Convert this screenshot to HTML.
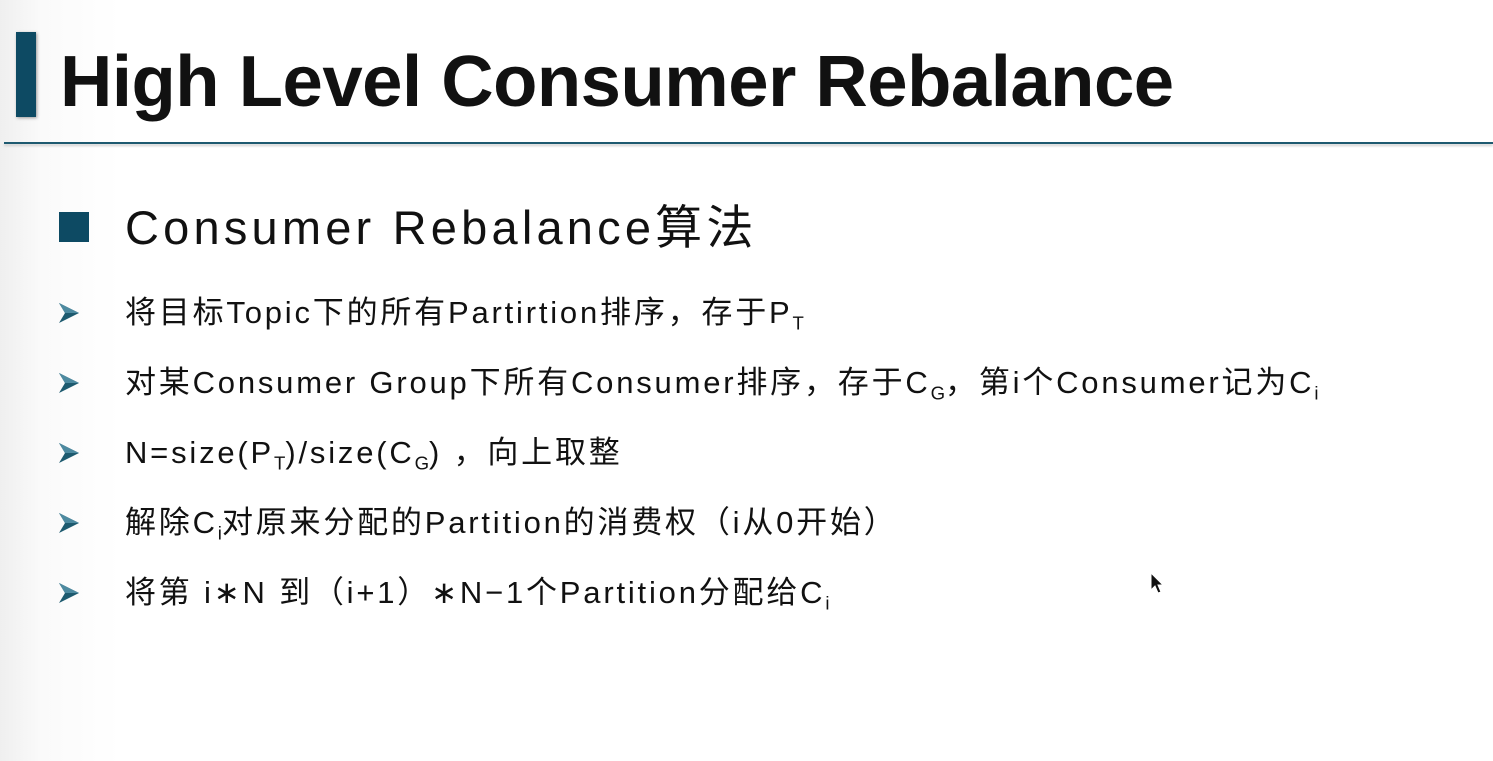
<!DOCTYPE html>
<html><head><meta charset="utf-8"><style>
html,body{margin:0;padding:0}
body{width:1493px;height:761px;overflow:hidden;position:relative;background:linear-gradient(90deg,#efefef 0px,#fafafa 40px,#fff 120px);font-family:"Liberation Sans","Noto Sans CJK SC",sans-serif;color:#111}
.bar{position:absolute;left:16px;top:32px;width:20px;height:85px;background:#0d4a63;box-shadow:1px 1px 3px #999}
.title{position:absolute;left:60px;top:32px;font-size:72.5px;font-weight:bold;line-height:100px;white-space:nowrap;letter-spacing:-0.5px}
.rule{position:absolute;left:4px;top:142px;width:1489px;height:2px;background:#1e5a70;box-shadow:0 2px 2px #ccc}
.sq{position:absolute;left:59px;top:212px;width:30px;height:30px;background:#0d4a63}
.sub{position:absolute;left:125px;top:198px;font-size:47px;line-height:60px;white-space:nowrap;letter-spacing:4.2px}
.li{position:absolute;left:125px;font-size:31px;line-height:40px;white-space:nowrap;letter-spacing:2.8px}
.ar{position:absolute;left:58px;width:22px;height:22px}
sub{font-size:60%;vertical-align:-0.35em;line-height:0;letter-spacing:0}
</style></head><body>
<div class="bar"></div>
<div class="title">High Level Consumer Rebalance</div>
<div class="rule"></div>
<div class="sq"></div>
<div class="sub">Consumer Rebalance算法</div>
<svg class="ar" style="top:302px" viewBox="0 0 22 22"><path d="M1 1 L21 11 L1 21 L7 11 Z" fill="#1d5a6f"/><path d="M1 1 L21 11 L7 11Z" fill="#4d8aa0"/></svg>
<svg class="ar" style="top:372px" viewBox="0 0 22 22"><path d="M1 1 L21 11 L1 21 L7 11 Z" fill="#1d5a6f"/><path d="M1 1 L21 11 L7 11Z" fill="#4d8aa0"/></svg>
<svg class="ar" style="top:442px" viewBox="0 0 22 22"><path d="M1 1 L21 11 L1 21 L7 11 Z" fill="#1d5a6f"/><path d="M1 1 L21 11 L7 11Z" fill="#4d8aa0"/></svg>
<svg class="ar" style="top:512px" viewBox="0 0 22 22"><path d="M1 1 L21 11 L1 21 L7 11 Z" fill="#1d5a6f"/><path d="M1 1 L21 11 L7 11Z" fill="#4d8aa0"/></svg>
<svg class="ar" style="top:582px" viewBox="0 0 22 22"><path d="M1 1 L21 11 L1 21 L7 11 Z" fill="#1d5a6f"/><path d="M1 1 L21 11 L7 11Z" fill="#4d8aa0"/></svg>
<div class="li" style="top:293px">将目标Topic下的所有Partirtion排序，存于P<sub>T</sub></div>
<div class="li" style="top:363px">对某Consumer Group下所有Consumer排序，存于C<sub>G</sub>，第i个Consumer记为C<sub>i</sub></div>
<div class="li" style="top:433px">N=size(P<sub>T</sub>)/size(C<sub>G</sub>) ，向上取整</div>
<div class="li" style="top:503px">解除C<sub>i</sub>对原来分配的Partition的消费权（i从0开始）</div>
<div class="li" style="top:573px">将第 i∗N 到（i+1）∗N−1个Partition分配给C<sub>i</sub></div>
<svg style="position:absolute;left:1150px;top:572px" width="16" height="24" viewBox="0 0 16 24"><path d="M1 1 L1 18 L5 14 L8 21 L11 20 L8 13 L13 13 Z" fill="#111" stroke="#fff" stroke-width="1"/></svg>
</body></html>
